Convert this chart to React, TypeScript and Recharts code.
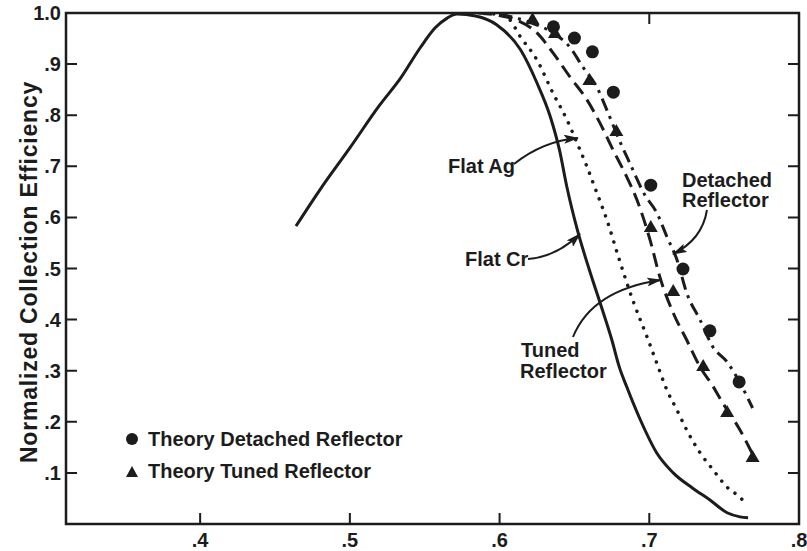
import React from 'react';
import { ComposedChart, Line, Scatter, XAxis, YAxis } from 'recharts';

// wavelength (x) vs normalized collection efficiency (y)
const flatCr = [
  { x: 0.464, y: 0.583 }, { x: 0.48, y: 0.654 }, { x: 0.5, y: 0.736 }, { x: 0.52, y: 0.82 },
  { x: 0.534, y: 0.873 }, { x: 0.547, y: 0.932 }, { x: 0.557, y: 0.971 }, { x: 0.565, y: 0.99 },
  { x: 0.5715, y: 0.998 }, { x: 0.584, y: 0.994 }, { x: 0.598, y: 0.977 }, { x: 0.614, y: 0.928 },
  { x: 0.625, y: 0.863 }, { x: 0.634, y: 0.796 }, { x: 0.64, y: 0.732 }, { x: 0.645, y: 0.659 },
  { x: 0.652, y: 0.575 }, { x: 0.66, y: 0.497 }, { x: 0.668, y: 0.425 }, { x: 0.675, y: 0.36 },
  { x: 0.68, y: 0.307 }, { x: 0.685, y: 0.268 }, { x: 0.694, y: 0.204 }, { x: 0.705, y: 0.139 },
  { x: 0.716, y: 0.1 }, { x: 0.729, y: 0.07 }, { x: 0.7405, y: 0.047 }, { x: 0.752, y: 0.022 },
  { x: 0.7606, y: 0.014 }, { x: 0.766, y: 0.012 },
];

const flatAg = [
  { x: 0.59, y: 0.999 }, { x: 0.597, y: 0.998 }, { x: 0.6056, y: 0.99 }, { x: 0.614, y: 0.953 },
  { x: 0.625, y: 0.908 }, { x: 0.6357, y: 0.843 }, { x: 0.645, y: 0.791 }, { x: 0.6517, y: 0.746 },
  { x: 0.6584, y: 0.699 }, { x: 0.665, y: 0.648 }, { x: 0.6717, y: 0.595 }, { x: 0.68, y: 0.517 },
  { x: 0.689, y: 0.438 }, { x: 0.6985, y: 0.366 }, { x: 0.705, y: 0.315 }, { x: 0.7118, y: 0.262 },
  { x: 0.7185, y: 0.223 }, { x: 0.725, y: 0.184 }, { x: 0.734, y: 0.139 }, { x: 0.7426, y: 0.106 },
  { x: 0.752, y: 0.072 }, { x: 0.7586, y: 0.057 }, { x: 0.766, y: 0.037 },
];

const tunedReflector = [
  { x: 0.5856, y: 1.0 }, { x: 0.598, y: 0.996 }, { x: 0.6116, y: 0.986 }, { x: 0.625, y: 0.961 },
  { x: 0.6357, y: 0.922 }, { x: 0.647, y: 0.875 }, { x: 0.6584, y: 0.83 }, { x: 0.667, y: 0.785 },
  { x: 0.6758, y: 0.732 }, { x: 0.685, y: 0.679 }, { x: 0.6918, y: 0.634 }, { x: 0.7005, y: 0.556 },
  { x: 0.7071, y: 0.483 }, { x: 0.716, y: 0.413 }, { x: 0.725, y: 0.36 }, { x: 0.734, y: 0.307 },
  { x: 0.742, y: 0.272 }, { x: 0.749, y: 0.237 }, { x: 0.7606, y: 0.184 }, { x: 0.7686, y: 0.139 },
];

const detachedReflector = [
  { x: 0.6, y: 0.998 }, { x: 0.62, y: 0.982 }, { x: 0.6357, y: 0.961 }, { x: 0.647, y: 0.933 },
  { x: 0.6557, y: 0.894 }, { x: 0.665, y: 0.855 }, { x: 0.6717, y: 0.81 }, { x: 0.68, y: 0.751 },
  { x: 0.687, y: 0.706 }, { x: 0.697, y: 0.644 }, { x: 0.705, y: 0.609 }, { x: 0.7118, y: 0.562 },
  { x: 0.7185, y: 0.517 }, { x: 0.725, y: 0.452 }, { x: 0.734, y: 0.399 }, { x: 0.7426, y: 0.346 },
  { x: 0.752, y: 0.317 }, { x: 0.7606, y: 0.276 }, { x: 0.769, y: 0.227 },
];

const theoryDetached = [
  { x: 0.636, y: 0.973 }, { x: 0.65, y: 0.951 }, { x: 0.662, y: 0.924 }, { x: 0.676, y: 0.845 },
  { x: 0.701, y: 0.663 }, { x: 0.7225, y: 0.499 }, { x: 0.7405, y: 0.378 }, { x: 0.76, y: 0.278 },
];

const theoryTuned = [
  { x: 0.622, y: 0.988 }, { x: 0.637, y: 0.961 }, { x: 0.66, y: 0.869 }, { x: 0.678, y: 0.769 },
  { x: 0.701, y: 0.581 }, { x: 0.716, y: 0.456 }, { x: 0.736, y: 0.309 }, { x: 0.752, y: 0.219 },
  { x: 0.769, y: 0.131 },
];

const xTicks = [0.4, 0.5, 0.6, 0.7, 0.8];
const yTicks = [0.1, 0.2, 0.3, 0.4, 0.5, 0.6, 0.7, 0.8, 0.9, 1.0];
const topTicks = [0.7];

const INK = '#1c1c1c';
const FONT = '"Liberation Sans", Arial, Helvetica, sans-serif';
const PLOT = { left: 66, top: 13, right: 799, bottom: 524 };

const fmt = (v: number) => (v === 1 ? '1.0' : v.toFixed(1).replace(/^0/, ''));

const textProps = { fill: INK, fontSize: 20, fontWeight: 700, fontFamily: FONT };

// ticks point into the plot, like the original frame
const XTick = (p: any) => {
  const v = p.payload.value;
  const d = (v < 0.8 ? `M${p.x},${p.y} v-11 ` : '') + (topTicks.includes(v) ? `M${p.x},${PLOT.top} v11` : '');
  return (
    <g>
      {d && <path d={d} stroke={INK} strokeWidth={2} fill="none" />}
      <text {...textProps} x={p.x} y={p.y + 23} textAnchor="middle">{fmt(v)}</text>
    </g>
  );
};

const YTick = (p: any) => {
  const v = p.payload.value;
  return (
    <g>
      {v < 1 && (
        <path d={`M${p.x},${p.y} h11 M${PLOT.right},${p.y} h-11`} stroke={INK} strokeWidth={2} fill="none" />
      )}
      <text {...textProps} x={p.x - 5} y={p.y + 7} textAnchor="end">{fmt(v)}</text>
    </g>
  );
};

const Dot = (p: any) => <circle cx={p.cx} cy={p.cy} r={6.5} fill={INK} />;
const Tri = (p: any) => (
  <polygon points={`${p.cx},${p.cy - 7} ${p.cx - 7},${p.cy + 5} ${p.cx + 7},${p.cy + 5}`} fill={INK} />
);

export default function App() {
  return (
    <div style={{ position: 'absolute', left: 0, top: 0, width: 807, height: 551, background: '#fff' }}>
      <ComposedChart width={807} height={551} margin={{ top: 13, right: 8, bottom: 0, left: 0 }}>
        <XAxis xAxisId="b" dataKey="x" type="number" domain={[0.3104, 0.8]} ticks={xTicks} interval={0}
          allowDataOverflow height={27} tickSize={0} tickMargin={0} axisLine={false} tickLine={false} tick={XTick} />
        <YAxis yAxisId="l" dataKey="y" type="number" domain={[0, 1]} ticks={yTicks} interval={0}
          allowDataOverflow width={66} tickSize={0} tickMargin={0} axisLine={false} tickLine={false} tick={YTick} />

        <Line xAxisId="b" yAxisId="l" data={flatCr} dataKey="y" type="monotone" stroke={INK} strokeWidth={3}
          dot={false} activeDot={false} isAnimationActive={false} />
        <Line xAxisId="b" yAxisId="l" data={flatAg} dataKey="y" type="monotone" stroke={INK} strokeWidth={3.5}
          strokeDasharray="0.1 9" strokeLinecap="round" dot={false} activeDot={false} isAnimationActive={false} />
        <Line xAxisId="b" yAxisId="l" data={tunedReflector} dataKey="y" type="monotone" stroke={INK} strokeWidth={3}
          strokeDasharray="14 7" dot={false} activeDot={false} isAnimationActive={false} />
        <Line xAxisId="b" yAxisId="l" data={detachedReflector} dataKey="y" type="monotone" stroke={INK} strokeWidth={3}
          strokeDasharray="13 6 3 6" dot={false} activeDot={false} isAnimationActive={false} />
        <Scatter xAxisId="b" yAxisId="l" data={theoryDetached} dataKey="y" shape={Dot} isAnimationActive={false} />
        <Scatter xAxisId="b" yAxisId="l" data={theoryTuned} dataKey="y" shape={Tri} isAnimationActive={false} />
      </ComposedChart>

      <svg width={807} height={551} style={{ position: 'absolute', left: 0, top: 0, pointerEvents: 'none' }}>
        <defs>
          <marker id="ah" markerUnits="userSpaceOnUse" markerWidth={15} markerHeight={9} refX={14} refY={4.5} orient="auto">
            <path d="M0,0 L15,4.5 L0,9 L3,4.5 Z" fill={INK} />
          </marker>
        </defs>
        <path d={`M${PLOT.left},${PLOT.top} H${PLOT.right} V${PLOT.bottom} H${PLOT.left} Z`}
          fill="none" stroke={INK} strokeWidth={2.5} />
        <text {...textProps} fontSize={23} letterSpacing={0.8} transform="translate(37,272) rotate(-90)" textAnchor="middle">
          Normalized Collection Efficiency
        </text>

        <text {...textProps} x={448} y={173}>Flat Ag</text>
        <path d="M514,164 Q543,141 578,138" fill="none" stroke={INK} strokeWidth={2} markerEnd="url(#ah)" />

        <text {...textProps} x={465} y={266}>Flat Cr</text>
        <path d="M528,259 Q556,257 580,234" fill="none" stroke={INK} strokeWidth={2} markerEnd="url(#ah)" />

        <text {...textProps} x={682} y={187}>Detached</text>
        <text {...textProps} x={682} y={207}>Reflector</text>
        <path d="M707,210 Q702,240 673,254" fill="none" stroke={INK} strokeWidth={2} markerEnd="url(#ah)" />

        <text {...textProps} x={521} y={357}>Tuned</text>
        <text {...textProps} x={520} y={378}>Reflector</text>
        <path d="M573,337 Q592,290 661,280" fill="none" stroke={INK} strokeWidth={2} markerEnd="url(#ah)" />

        <circle cx={132} cy={439} r={6} fill={INK} />
        <text {...textProps} x={148} y={446}>Theory Detached Reflector</text>
        <polygon points="132,466 126,477 138,477" fill={INK} />
        <text {...textProps} x={148} y={478}>Theory Tuned Reflector</text>
      </svg>
    </div>
  );
}
